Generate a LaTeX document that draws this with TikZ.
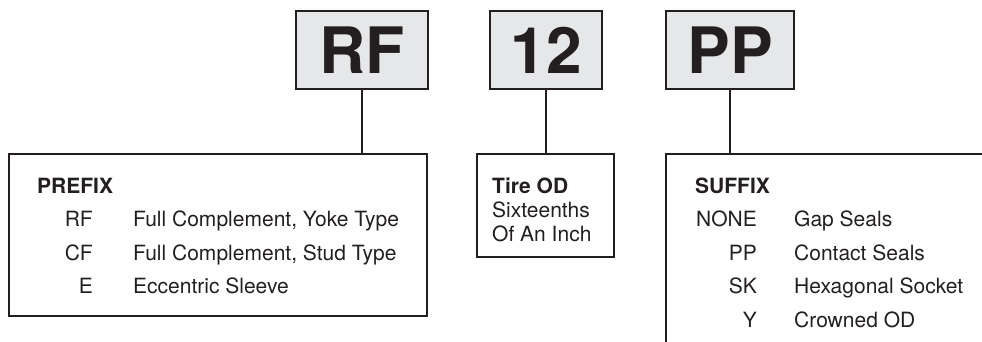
\documentclass[tikz,border=0pt]{standalone}
\usepackage{fontspec}
\setmainfont{TeX Gyre Heros}
\definecolor{ink}{HTML}{231F20}
\definecolor{boxgray}{HTML}{E6E7E8}
\begin{document}
\begin{tikzpicture}[x=1pt,y=-1pt,
  codebox/.style={draw=ink,fill=boxgray,line width=1.4pt,inner sep=0pt,
    minimum height=78pt,text=ink,font=\fontsize{64}{64}\selectfont\bfseries},
  legendbox/.style={draw=ink,line width=1.4pt,inner sep=0pt},
  link/.style={draw=ink,line width=1.3pt},
  txt/.style={inner sep=0pt,text=ink,font=\fontsize{21}{24}\selectfont},
  ttl/.style={txt,font=\fontsize{21}{24}\selectfont\bfseries}]
\useasboundingbox (0,0) rectangle (982,342);
\clip (0,0) rectangle (982,342);
% code boxes
\node[codebox,minimum width=132pt] (rf) at (362,50) {RF};
\node[codebox,minimum width=112pt] (od) at (546,50) {12};
\node[codebox,minimum width=128pt] (pp) at (730,50) {PP};
% legend boxes
\node[legendbox,minimum width=418pt,minimum height=162pt] (prefix) at (218,235) {};
\node[legendbox,minimum width=137pt,minimum height=103pt] (tire) at (545.5,205.5) {};
\node[legendbox,minimum width=340pt,minimum height=210pt] (suffix) at (836,259) {};
% connectors
\draw[link] (rf.south) -- (rf.south |- prefix.north);
\draw[link] (od.south) -- (od.south |- tire.north);
\draw[link] (pp.south) -- (pp.south |- suffix.north);
% prefix text
\node[ttl,anchor=base west] (ptitle) at (37,193) {PREFIX};
\node[txt,anchor=base east] (pc1) at (93,226.5) {RF};
\node[txt,anchor=base east] (pc2) at (93,260) {CF};
\node[txt,anchor=base east] (pc3) at (93,293.5) {E};
\node[txt,anchor=base west] (pd1) at (133,226.5) {Full Complement, Yoke Type};
\node[txt,anchor=base west] (pd2) at (133,260) {Full Complement, Stud Type};
\node[txt,anchor=base west] (pd3) at (133,293.5) {Eccentric Sleeve};
% tire text
\node[ttl,anchor=base west] (ttitle) at (492,193) {Tire OD};
\node[txt,anchor=base west] (t1) at (492,217) {Sixteenths};
\node[txt,anchor=base west] (t2) at (492,241) {Of An Inch};
% suffix text
\node[ttl,anchor=base west] (stitle) at (695,193) {SUFFIX};
\node[txt,anchor=base east] (sc1) at (757,226.5) {NONE};
\node[txt,anchor=base east] (sc2) at (757,260) {PP};
\node[txt,anchor=base east] (sc3) at (757,293.5) {SK};
\node[txt,anchor=base east] (sc4) at (757,327) {Y};
\node[txt,anchor=base west] (sd1) at (794,226.5) {Gap Seals};
\node[txt,anchor=base west] (sd2) at (794,260) {Contact Seals};
\node[txt,anchor=base west] (sd3) at (794,293.5) {Hexagonal Socket};
\node[txt,anchor=base west] (sd4) at (794,327) {Crowned OD};
\end{tikzpicture}
\end{document}
